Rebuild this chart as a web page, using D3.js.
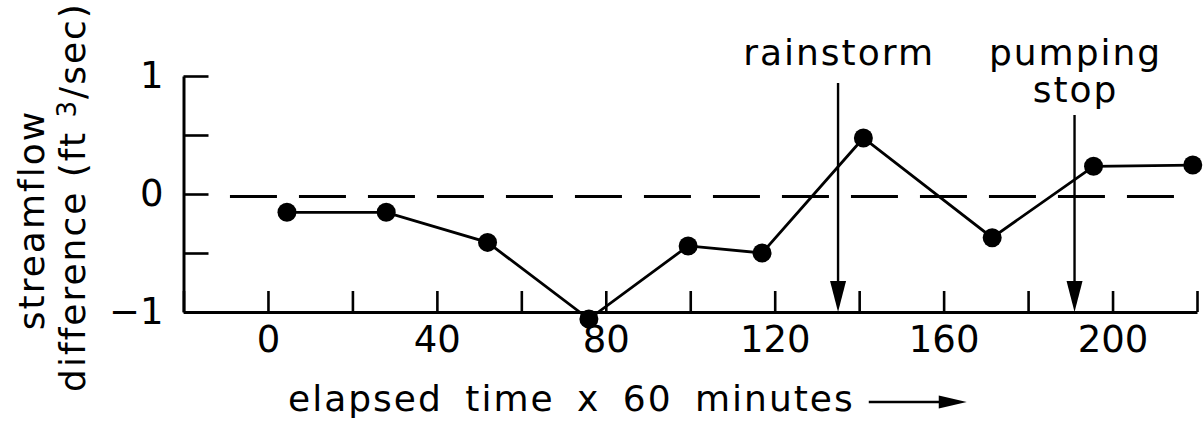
<!DOCTYPE html>
<html>
<head>
<meta charset="utf-8">
<script src="https://cdn.jsdelivr.net/npm/d3@7/dist/d3.min.js"></script>
<style>
  html, body { margin: 0; padding: 0; background: #fff; }
  svg { display: block; }
  text { font-family: "DejaVu Sans", sans-serif; fill: #000; }
</style>
</head>
<body>
<svg id="chart" width="1203" height="425"></svg>
<script>
// Elapsed time (hours) of each streamflow measurement
const times = [4.5, 28, 52, 76, 99.5, 117, 141, 171.5, 195.5, 219];
// Streamflow difference (ft3/sec) at each measurement
const diffs = [-0.155, -0.155, -0.41, -1.06, -0.44, -0.5, 0.475, -0.37, 0.235, 0.245];

// Axis ticks and labels
const xTicks = [-20, 0, 20, 40, 60, 80, 100, 120, 140, 160, 180, 200, 220];
const xLabels = [0, 40, 80, 120, 160, 200];
const yTicks = [-1, -0.5, 0, 0.5, 1];
const yLabels = [-1, 0, 1];

// Events marked with arrows
const eventTimes = [135, 191];
const eventLabels = [["rainstorm"], ["pumping", "stop"]];

const svg = d3.select("#chart");
const x = d3.scaleLinear().domain([-20, 220]).range([183.5, 1197]);
const y = d3.scaleLinear().domain([-1, 1]).range([312, 76]);

// zero reference line (dashed)
const refSpan = [-9, 215];
svg.append("line")
  .attr("x1", x(refSpan[0])).attr("x2", x(refSpan[1]))
  .attr("y1", y(0) + 2.5).attr("y2", y(0) + 2.5)
  .attr("stroke", "#000").attr("stroke-width", 2.8)
  .attr("stroke-dasharray", "47 22");

// x axis, ticks pointing inward
const xAxis = d3.axisBottom(x)
  .tickValues(xTicks)
  .tickSizeInner(-21).tickSizeOuter(0).tickPadding(14)
  .tickFormat(d => xLabels.includes(d) ? String(d) : "");
const gx = svg.append("g").attr("transform", `translate(0,${y(-1)})`).call(xAxis);

// y axis, ticks pointing inward
const yAxis = d3.axisLeft(y)
  .tickValues(yTicks)
  .tickSizeInner(-25).tickSizeOuter(0).tickPadding(20)
  .tickFormat(d => yLabels.includes(d) ? (d < 0 ? "\u2212" + Math.abs(d) : String(d)) : "");
const gy = svg.append("g").attr("transform", `translate(${x(-20)},0)`).call(yAxis);

[gx, gy].forEach(g => {
  g.selectAll(".domain").attr("stroke", "#000").attr("stroke-width", 3);
  g.selectAll(".tick line").attr("stroke", "#000").attr("stroke-width", 2.6);
  g.selectAll(".tick text").attr("font-size", 37)
    .attr("font-family", "DejaVu Sans").attr("fill", "#000");
});

// data line and points
const pts = times.map((t, i) => [t, diffs[i]]);
svg.append("path")
  .datum(pts)
  .attr("fill", "none").attr("stroke", "#000").attr("stroke-width", 2.8)
  .attr("d", d3.line().x(d => x(d[0])).y(d => y(d[1])));
svg.selectAll("circle.pt")
  .data(pts).enter().append("circle")
  .attr("class", "pt")
  .attr("cx", d => x(d[0])).attr("cy", d => y(d[1]))
  .attr("r", 9.5).attr("fill", "#000");

// event arrows with labels
const arrowTops = [83, 115];
eventTimes.forEach((t, i) => {
  const ax = x(t), bottom = y(-1), headLen = 31, headHalf = 8;
  svg.append("line")
    .attr("x1", ax).attr("x2", ax)
    .attr("y1", arrowTops[i]).attr("y2", bottom - headLen + 2)
    .attr("stroke", "#000").attr("stroke-width", 2.4);
  svg.append("path")
    .attr("d", `M${ax},${bottom}L${ax - headHalf},${bottom - headLen}L${ax + headHalf},${bottom - headLen}Z`)
    .attr("fill", "#000");
  eventLabels[i].forEach((s, j) => {
    svg.append("text")
      .attr("x", ax + 1).attr("y", 65 + j * 37)
      .attr("text-anchor", "middle")
      .attr("font-size", 36).attr("letter-spacing", 2)
      .text(s);
  });
});

// y axis title, two rotated lines
svg.append("text")
  .attr("transform", "translate(44,220) rotate(-90)")
  .attr("text-anchor", "middle").attr("font-size", 36).attr("letter-spacing", 2)
  .text("streamflow");
const yTitle2 = svg.append("text")
  .attr("transform", "translate(85,197) rotate(-90)")
  .attr("text-anchor", "middle").attr("font-size", 36).attr("letter-spacing", 2);
yTitle2.append("tspan").text("difference  (ft ");
yTitle2.append("tspan").attr("font-size", 26).attr("dy", -9).text("3");
yTitle2.append("tspan").attr("dy", 9).text("/sec)");

// x axis title with trailing arrow
const xTitle = svg.append("text")
  .attr("x", 288).attr("y", 411)
  .attr("font-size", 36).attr("letter-spacing", 2).attr("word-spacing", 9)
  .text("elapsed time x 60 minutes");
const bb = xTitle.node().getBBox();
const a0 = bb.x + bb.width + 14, a1 = a0 + 98, ay = 402;
svg.append("line")
  .attr("x1", a0).attr("x2", a1 - 26).attr("y1", ay).attr("y2", ay)
  .attr("stroke", "#000").attr("stroke-width", 2.4);
svg.append("path")
  .attr("d", `M${a1},${ay}L${a1 - 28},${ay - 6.5}L${a1 - 28},${ay + 6.5}Z`)
  .attr("fill", "#000");
</script>
</body>
</html>
